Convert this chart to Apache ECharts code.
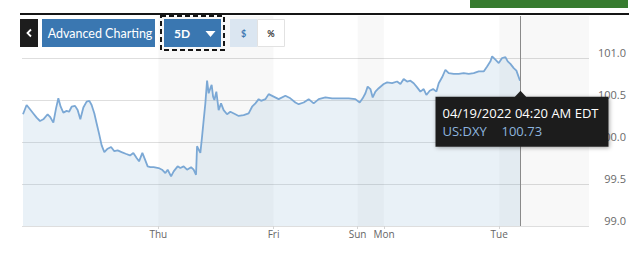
<!DOCTYPE html>
<html><head><meta charset="utf-8">
<script src="https://cdn.jsdelivr.net/npm/echarts@6/dist/echarts.min.js"></script>
<style>html,body{margin:0;padding:0;background:#fff}#c{width:640px;height:256px}</style>
</head><body><div id="c"></div>
<script>
// Trading hours since Wed 00:00 (weekend gap removed)
const hours = [-4.19,-3.44,-2.73,-2.04,-1.35,-0.65,0.04,0.94,1.44,2.13,
 2.69,3.17,3.65,4.21,4.90,5.40,5.94,6.65,7.19,7.75,
 8.38,9.06,9.63,10.10,10.67,11.15,11.65,12.19,12.75,13.44,
 14.15,14.83,15.52,16.35,17.19,18.10,18.79,19.48,19.98,20.67,
 21.23,21.77,22.33,23.02,24.06,24.77,25.46,25.94,26.65,27.19,
 28.02,28.58,29.27,29.98,30.81,31.35,31.85,32.06,32.48,32.75,
 33.10,33.44,33.79,34.15,34.48,34.83,35.10,35.40,35.67,36.08,
 36.56,37.06,37.60,38.31,39.00,40.04,40.73,41.77,42.81,43.52,
 44.21,44.90,45.40,46.29,46.98,48.02,49.06,50.46,51.50,52.54,
 53.23,54.27,55.31,56.35,57.40,58.79,60.19,61.56,63.65,65.04,
 65.94,66.56,67.13,67.60,68.17,68.65,69.21,69.90,70.94,71.65,
 72.69,73.73,74.42,75.10,75.81,76.50,77.19,77.90,78.58,79.27,
 79.83,80.52,81.23,81.92,82.40,83.10,83.79,84.48,85.52,86.56,
 87.60,88.65,89.69,90.73,91.77,92.48,93.17,93.52,94.21,94.90,
 95.60,96.29,96.77,97.33,98.02,98.58,99.33];
const values = [100.33,100.44,100.39,100.34,100.29,100.25,100.27,100.33,100.30,100.23,
 100.40,100.52,100.42,100.35,100.37,100.36,100.42,100.43,100.38,100.27,
 100.41,100.48,100.49,100.44,100.34,100.22,100.10,99.96,99.88,99.92,
 99.94,99.89,99.90,99.88,99.86,99.84,99.87,99.81,99.77,99.87,
 99.79,99.71,99.70,99.70,99.69,99.67,99.63,99.67,99.59,99.65,
 99.71,99.69,99.71,99.67,99.70,99.67,99.61,99.95,99.90,99.87,
 100.06,100.26,100.46,100.73,100.58,100.64,100.68,100.54,100.50,100.60,
 100.38,100.46,100.38,100.33,100.36,100.33,100.31,100.32,100.34,100.42,
 100.46,100.51,100.49,100.51,100.57,100.54,100.51,100.55,100.52,100.47,
 100.45,100.47,100.51,100.46,100.51,100.53,100.52,100.52,100.52,100.51,
 100.47,100.52,100.58,100.66,100.63,100.53,100.60,100.64,100.69,100.71,
 100.70,100.72,100.69,100.75,100.72,100.73,100.70,100.65,100.60,100.63,
 100.56,100.61,100.63,100.60,100.70,100.77,100.86,100.82,100.81,100.81,
 100.82,100.81,100.82,100.84,100.84,100.90,100.96,101.02,100.98,100.94,
 101.00,101.01,100.96,100.93,100.88,100.85,100.73];
const dayTicks = [24, 48, 65.5, 71, 95];
const dayLabels = ['Thu', 'Fri', 'Sun', 'Mon', 'Tue'];
const dayBands = [[24, 48], [65.5, 71], [95, 113.7]];
const yTicks = [99.0, 99.5, 100.0, 100.5, 101.0];
const xRange = [-4.4, 113.7];
const yRange = [99.0, 101.5];
const symbolName = 'US:DXY';
const lastTimeLabel = '04/19/2022 04:20 AM EDT';
const buttonLabels = ['Advanced Charting', '5D', '$', '%'];

const chart = echarts.init(document.getElementById('c'), null, {renderer: 'svg'});
const FONT = '"Open Sans", sans-serif';
const lastH = hours[hours.length - 1];
const lastV = values[values.length - 1];
const seriesData = hours.map((h, i) => [h, values[i]]);

const option = {
  animation: false,
  backgroundColor: '#fff',
  grid: {left: 22, right: 51, top: 16, bottom: 30},
  xAxis: {
    type: 'value', min: xRange[0], max: xRange[1],
    axisLine: {show: false},
    splitLine: {show: false},
    axisTick: {show: true, customValues: dayTicks, length: 3, lineStyle: {color: '#d4d4d4'}},
    axisLabel: {
      customValues: dayTicks, margin: 3, fontSize: 10, fontFamily: FONT, color: '#666',
      formatter: v => { const i = dayTicks.indexOf(v); return i >= 0 ? dayLabels[i] : ''; }
    }
  },
  yAxis: {
    type: 'value', position: 'right', min: yRange[0], max: yRange[1], interval: 0.5,
    axisLine: {show: false}, axisTick: {show: false},
    splitLine: {show: true, showMaxLine: false, lineStyle: {color: '#dedede', width: 1}},
    axisLabel: {
      showMaxLabel: false, align: 'right', verticalAlign: 'bottom', margin: 37,
      fontSize: 11, fontFamily: FONT, color: '#6a6a6a',
      formatter: v => yTicks.some(t => Math.abs(t - v) < 1e-6) ? v.toFixed(1) : ''
    }
  },
  series: [
    {
      type: 'line', data: [], z: 1, silent: true,
      markArea: {
        silent: true,
        itemStyle: {color: 'rgba(0,0,0,0.028)'},
        data: dayBands.map(b => [{xAxis: b[0]}, {xAxis: b[1]}])
      }
    },
    {
      type: 'line', data: seriesData, z: 3, showSymbol: false, smooth: false,
      lineStyle: {color: '#7ba8d5', width: 1.8},
      areaStyle: {origin: 'start', color: 'rgba(140,178,212,0.27)'},
      markLine: {
        silent: true, symbol: 'none', label: {show: false},
        lineStyle: {color: '#8a8a8a', width: 1, type: 'solid'},
        data: [{xAxis: lastH}]
      }
    }
  ]
};
chart.setOption(option);

const p = chart.convertToPixel({xAxisIndex: 0, yAxisIndex: 0}, [lastH, lastV]);
const tipX = Math.round(p[0]) + 0.5;
const boxW = 173, boxH = 50;
const boxL = tipX - 85, boxT = p[1] + 16;

chart.setOption({
  graphic: [
    {type: 'rect', z: 100, shape: {x: 470, y: 0, width: 158, height: 8}, style: {fill: '#377b2f'}},
    {type: 'rect', z: 100, shape: {x: 20, y: 13, width: 609, height: 2}, style: {fill: '#151515'}},
    {type: 'rect', z: 100, shape: {x: 20, y: 19, width: 18, height: 28}, style: {fill: '#1d1d1d'}},
    {type: 'polyline', z: 101, shape: {points: [[31, 29.5], [27.5, 33], [31, 36.5]]}, style: {stroke: '#fff', lineWidth: 1.8, fill: null}},
    {type: 'rect', z: 100, shape: {x: 42, y: 19, width: 113, height: 28}, style: {fill: '#3a77b1'}},
    {type: 'text', z: 101, style: {text: buttonLabels[0], x: 100, y: 33, textAlign: 'center', textVerticalAlign: 'middle', fill: '#fff', font: '12.5px Lato, sans-serif'}},
    {type: 'rect', z: 100, shape: {x: 161, y: 16, width: 63, height: 34}, style: {fill: null, stroke: '#151515', lineWidth: 2, lineDash: [5, 3]}},
    {type: 'rect', z: 100, shape: {x: 164, y: 19, width: 57, height: 28}, style: {fill: '#3a77b1'}},
    {type: 'text', z: 101, style: {text: buttonLabels[1], x: 174, y: 33.5, textAlign: 'left', textVerticalAlign: 'middle', fill: '#fff', font: 'bold 12px Lato, sans-serif'}},
    {type: 'polygon', z: 101, shape: {points: [[205.5, 31], [215.5, 31], [210.5, 37]]}, style: {fill: '#fff'}},
    {type: 'rect', z: 100, shape: {x: 230, y: 19, width: 27, height: 28}, style: {fill: '#dbe6f1'}},
    {type: 'text', z: 101, style: {text: buttonLabels[2], x: 243.5, y: 33, textAlign: 'center', textVerticalAlign: 'middle', fill: '#3a77b1', font: 'bold 9px Lato, sans-serif'}},
    {type: 'rect', z: 100, shape: {x: 257.5, y: 19.5, width: 27, height: 27}, style: {fill: '#fff', stroke: '#e2e2e2', lineWidth: 1}},
    {type: 'text', z: 101, style: {text: buttonLabels[3], x: 271, y: 33, textAlign: 'center', textVerticalAlign: 'middle', fill: '#333', font: 'bold 9px Lato, sans-serif'}},
    // tooltip
    {type: 'rect', z: 110, shape: {x: boxL, y: boxT, width: boxW, height: boxH}, style: {fill: '#1f1f1f', shadowBlur: 4, shadowColor: 'rgba(0,0,0,0.35)', shadowOffsetX: 1, shadowOffsetY: 1}},
    {type: 'polygon', z: 111, shape: {points: [[tipX - 6, boxT + 0.5], [tipX, boxT - 6], [tipX + 6, boxT + 0.5]]}, style: {fill: '#1f1f1f'}},
    {type: 'text', z: 112, style: {text: lastTimeLabel, x: boxL + 7, y: boxT + 16, textAlign: 'left', textVerticalAlign: 'middle', fill: '#ffffff', font: '13px "Open Sans", sans-serif'}},
    {type: 'text', z: 112, style: {text: symbolName, x: boxL + 7, y: boxT + 34, textAlign: 'left', textVerticalAlign: 'middle', fill: '#8db4df', font: '13px "Open Sans", sans-serif'}},
    {type: 'text', z: 112, style: {text: lastV.toFixed(2), x: boxL + 66, y: boxT + 34, textAlign: 'left', textVerticalAlign: 'middle', fill: '#8db4df', font: '13px "Open Sans", sans-serif'}}
  ]
});
</script></body></html>
